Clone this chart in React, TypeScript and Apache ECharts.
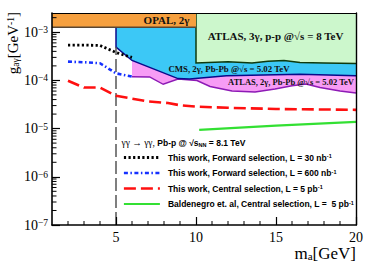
import React, { useEffect, useRef } from 'react';
import * as echarts from 'echarts';

const X_MIN = 1;
const X_MAX = 20;
const Y_MIN = 1e-7;
const Y_MAX = 2.5e-3;

const xMajorTicks = [5, 10, 15, 20];
const xMinorTicks = [2, 3, 4, 6, 7, 8, 9, 11, 12, 13, 14, 16, 17, 18, 19];
const yDecades = [-7, -6, -5, -4, -3];
const yMinorMult = [2, 3, 4, 5, 6, 7, 8, 9];

// Lines (this work / Baldenegro)
const fwd30X = [2, 3, 4, 5, 5.5, 6];
const fwd30Y = [5.4e-4, 5.4e-4, 5.3e-4, 3.8e-4, 3.35e-4, 3.0e-4];
const fwd600X = [2, 3, 4, 5, 6];
const fwd600Y = [2.45e-4, 2.38e-4, 2.27e-4, 1.4e-4, 1.2e-4];
const centralX = [2, 3, 4, 5, 7, 8.25, 9, 10, 12, 15, 20];
const centralY = [9.8e-5, 7.1e-5, 7.1e-5, 4.8e-5, 3.65e-5, 3.4e-5, 3.05e-5, 2.85e-5, 2.7e-5, 2.55e-5, 2.45e-5];
const baldX = [10.2, 15, 20];
const baldY = [9.4e-6, 1.15e-5, 1.38e-5];
const cutX = [5, 5];
const cutY = [1e-7, 4.9e-4];

// Excluded regions (lower boundaries)
const opalX = [1, 10];
const opalLow = [1.27e-3, 1.27e-3];
const atlas3X = [10, 12, 13.5, 14.5, 15.5, 16.5, 18, 20];
const atlas3Low = [2.3e-4, 2.45e-4, 2.3e-4, 2.5e-4, 2.6e-4, 2.35e-4, 2.3e-4, 2.25e-4];
const cmsX = [5, 5, 6, 8.875, 9.6, 11.9, 16.5, 20];
const cmsLow = [1.27e-3, 4.9e-4, 2.59e-4, 1.09e-4, 1.07e-4, 1.25e-4, 1.34e-4, 1.25e-4];
const cmsTop = 1.27e-3;
const magX = [6, 7.1, 7.95, 8.875, 10.06, 10.88, 12.25, 13.69, 14.94, 16.0, 16.875, 17.75, 19, 20];
const magLow = [1.19e-4, 1.18e-4, 8.3e-5, 1.07e-4, 9.95e-5, 7.5e-5, 6.0e-5, 5.75e-5, 6.6e-5, 7.7e-5, 8.4e-5, 7.1e-5, 6.0e-5, 5.5e-5];
const magTop = 2.59e-4;

const regionLabelX = [8.16, 14.97, 12.06, 15.94];
const regionLabelY = [1.75e-3, 8.3e-4, 1.73e-4, 9.4e-5];
const regionLabelText = [
  'OPAL, 2γ',
  'ATLAS, 3γ, p-p @√s = 8 TeV',
  'CMS, 2γ, Pb-Pb @√s = 5.02 TeV',
  'ATLAS, 2γ, Pb-Pb @√s = 5.02 TeV',
];
const regionLabelSize = [11, 11, 8.8, 8.5];

const legendNames = ['fwd30', 'fwd600', 'central', 'bald'];
const legendTexts: Record<string, string> = {
  fwd30: 'This work, Forward selection, L = 30 nb{sup|-1}',
  fwd600: 'This work, Forward selection, L = 600 nb{sup|-1}',
  central: 'This work, Central selection, L = 5 pb{sup|-1}',
  bald: 'Baldenegro et. al, Central selection, L =  5 pb{sup|-1}',
};

const SERIF = 'Liberation Serif';
const SANS = 'Liberation Sans';

const zip = (xs: number[], ys: number[]) => xs.map((x, i) => [x, ys[i]]);

function regionSeries(
  xs: number[],
  low: number[],
  top: number,
  fill: string,
  stroke: string,
  strokeFromTop: boolean
) {
  return {
    type: 'custom',
    silent: true,
    data: zip(xs, low),
    renderItem: (params: any, api: any) => {
      if (params.dataIndex !== 0) return null;
      const lowPts = xs.map((x, i) => api.coord([x, low[i]]));
      const poly = [...lowPts, api.coord([xs[xs.length - 1], top]), api.coord([xs[0], top])];
      const line = strokeFromTop ? [api.coord([xs[0], top]), ...lowPts] : lowPts;
      return {
        type: 'group',
        children: [
          { type: 'polygon', shape: { points: poly }, style: { fill, stroke: 'none' } },
          { type: 'polyline', shape: { points: line }, style: { stroke, lineWidth: 1.5, fill: 'none' } },
        ],
      };
    },
  };
}

export default function App() {
  const ref = useRef<HTMLDivElement>(null);
  useEffect(() => {
    document.body.style.margin = '0';
    if (!ref.current) return;
    const chart = echarts.init(ref.current, null, { renderer: 'svg' });
    const yMinorTicks: number[] = [];
    yDecades.forEach((d) => {
      yMinorMult.forEach((m) => {
        const v = m * Math.pow(10, d);
        if (v < Y_MAX) yMinorTicks.push(v);
      });
    });

    const option: any = {
      animation: false,
      grid: { left: 52, right: 18, top: 13, bottom: 43, outerBoundsMode: 'none' },
      xAxis: [
        {
          type: 'value', min: X_MIN, max: X_MAX, position: 'bottom', z: 10,
          axisLine: { onZero: false, lineStyle: { color: '#000', width: 1.6 } },
          axisTick: { inside: true, length: 8, customValues: xMajorTicks, lineStyle: { color: '#000', width: 1.2 } },
          axisLabel: { customValues: xMajorTicks, margin: 5, color: '#000', fontFamily: SERIF, fontSize: 14 },
          splitLine: { show: false },
        },
        {
          type: 'value', min: X_MIN, max: X_MAX, position: 'top', z: 10,
          axisLine: { onZero: false, lineStyle: { color: '#000', width: 1 } },
          axisTick: { show: false }, axisLabel: { show: false }, splitLine: { show: false },
        },
      ],
      yAxis: [
        {
          type: 'log', logBase: 10, min: Y_MIN, max: Y_MAX, position: 'left', z: 10,
          axisLine: { onZero: false, lineStyle: { color: '#000', width: 1.6 } },
          axisTick: { inside: true, length: 8, lineStyle: { color: '#000', width: 1.2 } },
          axisLabel: {
            margin: 4, showMaxLabel: false,
            formatter: (v: number) => `{b|10}{s|−${Math.round(-Math.log10(v))}}`,
            rich: {
              b: { fontFamily: SERIF, fontSize: 14, color: '#000' },
              s: { fontFamily: SERIF, fontSize: 9.5, color: '#000', verticalAlign: 'top' },
            },
          },
          splitLine: { show: false },
        },
        {
          type: 'log', logBase: 10, min: Y_MIN, max: Y_MAX, position: 'right', z: 10,
          axisLine: { onZero: false, lineStyle: { color: '#000', width: 1.4 } },
          axisTick: { show: false }, axisLabel: { show: false }, splitLine: { show: false },
        },
      ],
      legend: {
        orient: 'vertical', left: 122.5, top: 153, padding: 0,
        itemWidth: 36, itemHeight: 10, itemGap: 6.5, selectedMode: false,
        data: legendNames,
        formatter: (n: string) => legendTexts[n],
        lineStyle: { width: 'inherit' },
        itemStyle: { opacity: 0, color: 'rgba(0,0,0,0)', borderWidth: 0 },
        textStyle: {
          fontFamily: SANS, fontWeight: 'bold', fontSize: 8.5, color: '#000', padding: [0, 0, 0, 3],
          rich: {
            sup: { fontFamily: SANS, fontWeight: 'bold', fontSize: 5.5, color: '#000', verticalAlign: 'top' },
          },
        },
      },
      graphic: [
        {
          type: 'text', x: 13, y: 12, rotation: Math.PI / 2, z: 20,
          style: {
            text: 'g{sub|aγ}[GeV{sup|-1}]',
            fontFamily: SERIF, fontSize: 15, fill: '#000',
            textAlign: 'right', textVerticalAlign: 'middle', align: 'right', verticalAlign: 'middle',
            rich: {
              sub: { fontFamily: SERIF, fontSize: 9.5, verticalAlign: 'bottom' },
              sup: { fontFamily: SERIF, fontSize: 9.5, verticalAlign: 'top' },
            },
          },
        },
        {
          type: 'text', x: 356, y: 253, z: 20,
          style: {
            text: 'm{sub|a}[GeV]',
            fontFamily: SERIF, fontSize: 17, fill: '#000',
            textAlign: 'right', textVerticalAlign: 'middle', align: 'right', verticalAlign: 'middle',
            rich: { sub: { fontFamily: SERIF, fontSize: 11, verticalAlign: 'bottom' } },
          },
        },
        {
          type: 'text', x: 121.5, y: 143, z: 20,
          style: {
            text: '{g|γγ → γγ,} Pb-p @ √s{sub|NN} = 8.1 TeV',
            fontFamily: SANS, fontWeight: 'bold', fontSize: 8.5, fill: '#000',
            textAlign: 'left', textVerticalAlign: 'middle', align: 'left', verticalAlign: 'middle',
            rich: {
              g: { fontFamily: SERIF, fontWeight: 'normal', fontSize: 9.5, color: '#333' },
              sub: { fontFamily: SANS, fontWeight: 'bold', fontSize: 5.5, verticalAlign: 'bottom' },
            },
          },
        },
      ],
      series: [
        {
          type: 'line', data: zip(cutX, cutY), symbol: 'none', silent: true,
          lineStyle: { color: '#555', width: 1.5, type: [13, 4] },
        },
        {
          name: 'fwd30', type: 'line', data: zip(fwd30X, fwd30Y), symbol: 'none',
          lineStyle: { color: '#000', width: 2.8, type: [2.2, 2.4] },
        },
        {
          name: 'fwd600', type: 'line', data: zip(fwd600X, fwd600Y), symbol: 'none',
          lineStyle: { color: '#1530ff', width: 2.6, type: [4, 2.5, 1.5, 2.5] },
        },
        {
          name: 'central', type: 'line', data: zip(centralX, centralY), symbol: 'none',
          lineStyle: { color: '#ff1010', width: 2.6, type: [12, 5] },
        },
        {
          name: 'bald', type: 'line', data: zip(baldX, baldY), symbol: 'none',
          lineStyle: { color: '#33e033', width: 2.2 },
        },
        regionSeries(magX, magLow, magTop, '#f79cf5', '#8d1ab5', false),
        regionSeries(cmsX, cmsLow, cmsTop, '#3cc8f6', '#0a0a8a', false),
        regionSeries(atlas3X, atlas3Low, Y_MAX, '#ccf7cc', '#0e3a0e', true),
        regionSeries(opalX, opalLow, Y_MAX, '#f6a03f', '#5a4632', false),
        {
          type: 'custom', silent: true, z: 12,
          data: regionLabelX.map((x, i) => [x, regionLabelY[i], i]),
          renderItem: (params: any, api: any) => {
            const p = api.coord([api.value(0), api.value(1)]);
            const i = api.value(2);
            return {
              type: 'text', x: p[0], y: p[1],
              style: {
                text: regionLabelText[i], fill: '#111',
                fontFamily: SERIF, fontWeight: 'bold', fontSize: regionLabelSize[i],
                textAlign: 'center', textVerticalAlign: 'middle', align: 'center', verticalAlign: 'middle',
              },
            };
          },
        },
        {
          type: 'custom', silent: true, z: 12,
          data: yMinorTicks.map((v) => [X_MIN, v]),
          renderItem: (params: any, api: any) => {
            const p = api.coord([api.value(0), api.value(1)]);
            return { type: 'line', shape: { x1: p[0], y1: p[1], x2: p[0] + 4.5, y2: p[1] }, style: { stroke: '#000', lineWidth: 1 } };
          },
        },
        {
          type: 'custom', silent: true, z: 12,
          data: xMinorTicks.map((v) => [v, Y_MIN]),
          renderItem: (params: any, api: any) => {
            const p = api.coord([api.value(0), api.value(1)]);
            return { type: 'line', shape: { x1: p[0], y1: p[1], x2: p[0], y2: p[1] - 4 }, style: { stroke: '#000', lineWidth: 1 } };
          },
        },
      ],
    };
    chart.setOption(option);
    return () => chart.dispose();
  }, []);
  return <div ref={ref} style={{ width: 374, height: 268 }} />;
}
